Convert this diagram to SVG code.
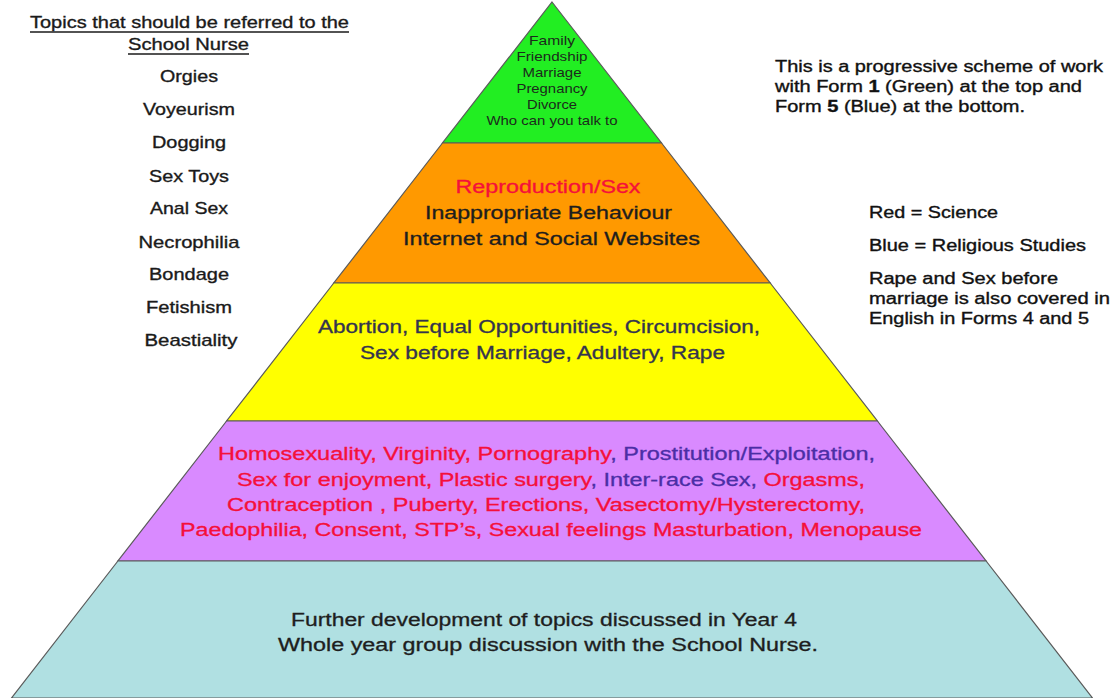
<svg xmlns="http://www.w3.org/2000/svg" width="1112" height="698" viewBox="0 0 1112 698">
<style>
text{font-family:"Liberation Sans",Arial,sans-serif;}
.band{stroke:#5a5a5a;stroke-width:1.2;}
.c{text-anchor:middle;}
.lst{font-size:17px;fill:#1a1a1a;stroke:#1a1a1a;stroke-width:0.35;text-anchor:middle;}
.rt{font-size:16px;fill:#111;stroke:#111;stroke-width:0.35;}
.big{font-size:17.5px;stroke-width:0.3;}
.red{fill:#f5103a;stroke:#f5103a;}
.blu{fill:#4b2ea6;stroke:#4b2ea6;}
.dk{fill:#1e1e1e;stroke:#1e1e1e;}
.sl{fill:#34344e;stroke:#34344e;}
</style>
<rect width="1112" height="698" fill="#ffffff"/>

<g id="band-form1">
<polygon class="band" fill="#22ee22" points="552,2 661.5,143 442.5,143"/>
<g font-size="13" class="c" fill="#1c2a1c">
<text x="552" y="45" textLength="46" lengthAdjust="spacingAndGlyphs">Family</text>
<text x="552" y="61" textLength="71" lengthAdjust="spacingAndGlyphs">Friendship</text>
<text x="552" y="77" textLength="59" lengthAdjust="spacingAndGlyphs">Marriage</text>
<text x="552" y="93" textLength="71" lengthAdjust="spacingAndGlyphs">Pregnancy</text>
<text x="552" y="109" textLength="50" lengthAdjust="spacingAndGlyphs">Divorce</text>
<text x="552" y="125" textLength="131" lengthAdjust="spacingAndGlyphs">Who can you talk to</text>
</g>
</g>

<g id="band-form2">
<polygon class="band" fill="#ff9900" points="442.5,143 661.5,143 770.2,283 333.8,283"/>
<text class="c big red" x="548" y="193" textLength="185" lengthAdjust="spacingAndGlyphs">Reproduction/Sex</text>
<text class="c big dk" x="548.5" y="219" textLength="247" lengthAdjust="spacingAndGlyphs">Inappropriate Behaviour</text>
<text class="c big dk" x="551.5" y="245" textLength="297" lengthAdjust="spacingAndGlyphs">Internet and Social Websites</text>
</g>

<g id="band-form3">
<polygon class="band" fill="#ffff00" points="333.8,283 770.2,283 877.4,421 226.6,421"/>
<text class="c big sl" x="539" y="333" textLength="442" lengthAdjust="spacingAndGlyphs">Abortion, Equal Opportunities, Circumcision,</text>
<text class="c big sl" x="542.5" y="359" textLength="365" lengthAdjust="spacingAndGlyphs">Sex before Marriage, Adultery, Rape</text>
</g>

<g id="band-form4">
<polygon class="band" fill="#d98aff" points="226.6,421 877.4,421 986.1,561 117.9,561"/>
<text class="c big" x="546.5" y="460" textLength="657" lengthAdjust="spacingAndGlyphs"><tspan class="red">Homosexuality, Virginity, Pornography</tspan><tspan class="blu">, Prostitution/Exploitation,</tspan></text>
<text class="c big" x="551" y="486" textLength="628" lengthAdjust="spacingAndGlyphs"><tspan class="red">Sex for enjoyment, Plastic surgery</tspan><tspan class="blu">, Inter-race Sex, </tspan><tspan class="red">Orgasms,</tspan></text>
<text class="c big red" x="546" y="511" textLength="638" lengthAdjust="spacingAndGlyphs">Contraception , Puberty, Erections, Vasectomy/Hysterectomy,</text>
<text class="c big red" x="551" y="536" textLength="742" lengthAdjust="spacingAndGlyphs">Paedophilia, Consent, STP’s, Sexual feelings Masturbation, Menopause</text>
</g>

<g id="band-form5">
<polygon class="band" fill="#b0e0e2" points="117.9,561 986.1,561 1092.5,698 11.5,698"/>
<text class="c big dk" x="544" y="626" textLength="506" lengthAdjust="spacingAndGlyphs">Further development of topics discussed in Year 4</text>
<text class="c big dk" x="548" y="651" textLength="540" lengthAdjust="spacingAndGlyphs">Whole year group discussion with the School Nurse.</text>
</g>

<g id="nurse-list">
<text class="lst" x="189.5" y="28" textLength="319" lengthAdjust="spacingAndGlyphs" font-size="16">Topics that should be referred to the</text>
<line x1="30" y1="32" x2="349" y2="32" stroke="#1a1a1a" stroke-width="1.3"/>
<text class="lst" x="188.5" y="50" textLength="121" lengthAdjust="spacingAndGlyphs" font-size="16">School Nurse</text>
<line x1="128" y1="54" x2="249" y2="54" stroke="#1a1a1a" stroke-width="1.3"/>
<text class="lst" x="189" y="82" textLength="58" lengthAdjust="spacingAndGlyphs">Orgies</text>
<text class="lst" x="189" y="115" textLength="92" lengthAdjust="spacingAndGlyphs">Voyeurism</text>
<text class="lst" x="189" y="148" textLength="74" lengthAdjust="spacingAndGlyphs">Dogging</text>
<text class="lst" x="189" y="182" textLength="80" lengthAdjust="spacingAndGlyphs">Sex Toys</text>
<text class="lst" x="189" y="214" textLength="78" lengthAdjust="spacingAndGlyphs">Anal Sex</text>
<text class="lst" x="189" y="248" textLength="101" lengthAdjust="spacingAndGlyphs">Necrophilia</text>
<text class="lst" x="189" y="280" textLength="80" lengthAdjust="spacingAndGlyphs">Bondage</text>
<text class="lst" x="189" y="313" textLength="86" lengthAdjust="spacingAndGlyphs">Fetishism</text>
<text class="lst" x="191" y="346" textLength="93" lengthAdjust="spacingAndGlyphs">Beastiality</text>
</g>

<g id="scheme-note">
<text class="rt" x="775" y="72" textLength="328" lengthAdjust="spacingAndGlyphs">This is a progressive scheme of work</text>
<text class="rt" x="775" y="92" textLength="307" lengthAdjust="spacingAndGlyphs">with Form <tspan font-weight="bold">1</tspan> (Green) at the top and</text>
<text class="rt" x="775" y="112" textLength="250" lengthAdjust="spacingAndGlyphs">Form <tspan font-weight="bold">5</tspan> (Blue) at the bottom.</text>
</g>

<g id="legend">
<text class="rt" x="869" y="218" textLength="129" lengthAdjust="spacingAndGlyphs">Red = Science</text>
<text class="rt" x="869" y="251" textLength="217" lengthAdjust="spacingAndGlyphs">Blue = Religious Studies</text>
<text class="rt" x="869" y="284" textLength="189" lengthAdjust="spacingAndGlyphs">Rape and Sex before</text>
<text class="rt" x="869" y="304" textLength="241" lengthAdjust="spacingAndGlyphs">marriage is also covered in</text>
<text class="rt" x="869" y="324" textLength="220" lengthAdjust="spacingAndGlyphs">English in Forms 4 and 5</text>
</g>
</svg>
